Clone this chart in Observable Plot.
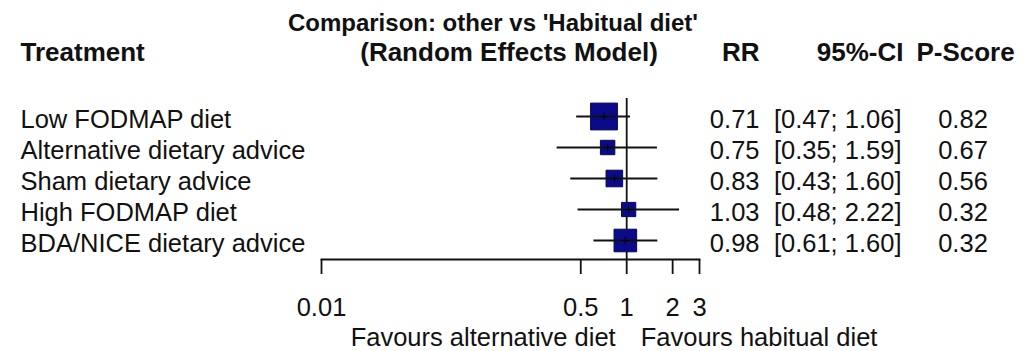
<!DOCTYPE html>
<html>
<head>
<meta charset="utf-8">
<script src="https://cdn.jsdelivr.net/npm/d3@7"></script>
<script src="https://cdn.jsdelivr.net/npm/@observablehq/plot@0.6"></script>
<style>
  html, body { margin: 0; padding: 0; background: #fff; }
  #chart svg { display: block; }
</style>
</head>
<body>
<div id="chart"></div>
<script>
// ---- data ----
const treatments = ["Low FODMAP diet", "Alternative dietary advice", "Sham dietary advice", "High FODMAP diet", "BDA/NICE dietary advice"];
const rr     = [0.71, 0.75, 0.83, 1.03, 0.98];
const lower  = [0.47, 0.35, 0.43, 0.48, 0.61];
const upper  = [1.06, 1.59, 1.60, 2.22, 1.60];
const pscore = [0.82, 0.67, 0.56, 0.32, 0.32];
const xTicks = [0.01, 0.5, 1, 2, 3];
const xTickLabels = ["0.01", "0.5", "1", "2", "3"];
const title = "Comparison: other vs 'Habitual diet'";
const subtitle = "(Random Effects Model)";
const headTreatment = "Treatment";
const headRR = "RR";
const headCI = "95%-CI";
const headP = "P-Score";
const favours = ["Favours alternative diet", "Favours habitual diet"];

// inverse-variance weight derived from the CI (drives square area)
const rows = treatments.map((t, i) => {
  const se = (Math.log(upper[i]) - Math.log(lower[i])) / (2 * 1.959964);
  return {
    treatment: t, rr: rr[i], lower: lower[i], upper: upper[i], p: pscore[i],
    weight: 1 / (se * se)
  };
});
const tickRows = xTicks.map((v, i) => ({ v, label: xTickLabels[i] }));

const fmt = v => v.toFixed(2);
const reg = 25.5, bold = 26;
const ink = "#111";

const chart = Plot.plot({
  width: 1028,
  height: 351,
  marginLeft: 321,
  marginRight: 329,
  marginTop: 98,
  marginBottom: 92,
  style: { fontFamily: "'Liberation Sans', Arial, sans-serif", color: ink, background: "#fff", overflow: "visible" },
  x: { type: "log", domain: [0.01, 3], label: null },
  y: { type: "point", domain: treatments, range: [114.5, 242], padding: 0, axis: null, label: null },
  r: { type: "sqrt", domain: [0, 25], range: [0, 15.7] },
  marks: [
    Plot.frame({ anchor: "bottom", stroke: ink, strokeWidth: 1.8 }),
    Plot.ruleX([1], { stroke: ink, strokeWidth: 1.8 }),
    Plot.axisX({
      anchor: "bottom", ticks: xTicks, tickFormat: () => "",
      tickSize: 15, stroke: ink, strokeWidth: 1.8, label: null
    }),
    Plot.text(tickRows, { x: "v", text: "label", frameAnchor: "bottom", lineAnchor: "bottom", dy: 315 - 259, fontSize: reg, fill: ink }),
    Plot.dot(rows, { x: "rr", y: "treatment", r: "weight", symbol: "square", fill: "#0b0b8a", stroke: "#08085a", strokeWidth: 1 }),
    Plot.ruleY(rows, { y: "treatment", x1: "lower", x2: "upper", stroke: ink, strokeWidth: 1.8 }),
    Plot.dot(rows, { x: "rr", y: "treatment", symbol: "plus", r: 2.5, stroke: "#000", strokeWidth: 1 }),

    // row texts
    Plot.text(rows, { y: "treatment", text: "treatment", frameAnchor: "left", textAnchor: "start", dx: 20 - 321, lineAnchor: "bottom", dy: 11.5, fontSize: reg, fill: ink }),
    Plot.text(rows, { y: "treatment", text: d => fmt(d.rr), frameAnchor: "left", textAnchor: "end", dx: 759 - 321, lineAnchor: "bottom", dy: 11, fontSize: reg, fill: ink }),
    Plot.text(rows, { y: "treatment", text: d => `[${fmt(d.lower)}; ${fmt(d.upper)}]`, frameAnchor: "left", textAnchor: "end", dx: 901 - 321, lineAnchor: "bottom", dy: 11, fontSize: reg, fill: ink }),
    Plot.text(rows, { y: "treatment", text: d => fmt(d.p), frameAnchor: "left", textAnchor: "middle", dx: 962.5 - 321, lineAnchor: "bottom", dy: 11, fontSize: reg, fill: ink }),

    // headers
    Plot.text([title], { text: d => d, frameAnchor: "top", lineAnchor: "bottom", dx: -17.5, dy: 30 - 98, fontSize: 24, fontWeight: "bold", fill: ink }),
    Plot.text([subtitle], { text: d => d, frameAnchor: "top", lineAnchor: "bottom", dx: -1.5, dy: 60 - 98, fontSize: bold, fontWeight: "bold", fill: ink }),
    Plot.text([headTreatment], { text: d => d, frameAnchor: "top-left", textAnchor: "start", lineAnchor: "bottom", dx: 20 - 321, dy: 60 - 98, fontSize: bold, fontWeight: "bold", fill: ink }),
    Plot.text([headRR], { text: d => d, frameAnchor: "top-left", textAnchor: "end", lineAnchor: "bottom", dx: 759 - 321, dy: 60 - 98, fontSize: bold, fontWeight: "bold", fill: ink }),
    Plot.text([headCI], { text: d => d, frameAnchor: "top-left", textAnchor: "end", lineAnchor: "bottom", dx: 903 - 321, dy: 60 - 98, fontSize: bold, fontWeight: "bold", fill: ink }),
    Plot.text([headP], { text: d => d, frameAnchor: "top-left", textAnchor: "middle", lineAnchor: "bottom", dx: 965 - 321, dy: 60 - 98, fontSize: bold, fontWeight: "bold", fill: ink }),

    // favours labels
    Plot.text([{ x: 1, label: favours[0] }], { x: "x", text: "label", frameAnchor: "bottom", textAnchor: "end", lineAnchor: "bottom", dx: -11, dy: 345 - 259, fontSize: reg, fill: ink }),
    Plot.text([{ x: 1, label: favours[1] }], { x: "x", text: "label", frameAnchor: "bottom", textAnchor: "start", lineAnchor: "bottom", dx: 14, dy: 345 - 259, fontSize: reg, fill: ink })
  ]
});

document.getElementById("chart").appendChild(chart);
</script>
</body>
</html>
